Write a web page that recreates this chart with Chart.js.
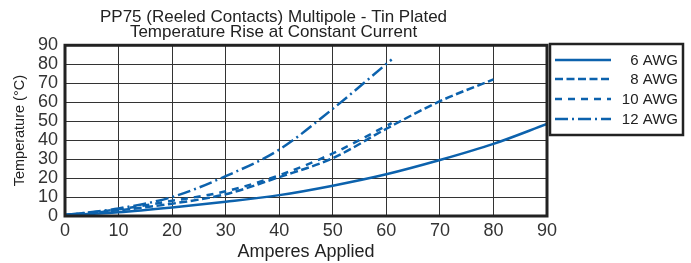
<!DOCTYPE html>
<html>
<head>
<meta charset="utf-8">
<script src="https://cdn.jsdelivr.net/npm/chart.js@4/dist/chart.umd.min.js"></script>
<style>
  html, body { margin: 0; padding: 0; background: #fff; }
  #wrap { width: 691px; height: 263px; }
</style>
</head>
<body>
<div id="wrap"><canvas id="tempChart" width="691" height="263"></canvas></div>
<script>
const titleLines = ['PP75 (Reeled Contacts) Multipole - Tin Plated', 'Temperature Rise at Constant Current'];
const seriesLabels = ['6 AWG', '8 AWG', '10 AWG', '12 AWG'];

const amps6 = [0, 10, 20, 30, 40, 50, 60, 70, 80, 90];
const temp6 = [0.5, 2, 4.5, 7.5, 11, 16, 22, 29.5, 38, 48.5];

const amps8 = [0, 10, 20, 30, 40, 50, 60, 70, 80];
const temp8 = [0.5, 3, 6.5, 11.5, 20.5, 30.5, 46, 60.5, 72];

const amps10 = [0, 10, 20, 30, 40, 50, 61];
const temp10 = [0.5, 3.5, 8, 13, 21.5, 33, 49];

const amps12 = [0, 10, 20, 30, 40, 50, 61];
const temp12 = [0.5, 4, 10, 21, 35, 56.5, 82.5];

const xTicks = [0, 10, 20, 30, 40, 50, 60, 70, 80, 90];
const yTicks = [0, 10, 20, 30, 40, 50, 60, 70, 80, 90];

const BLUE = '#0c62ad';
const FONT = '"Liberation Sans", Arial, sans-serif';
const dashes = [[], [8, 3.5], [7, 6], [13, 4, 2, 4]];

const toPoints = (xs, ys) => xs.map((x, i) => ({ x, y: ys[i] }));

const datasets = [
    toPoints(amps6, temp6),
    toPoints(amps8, temp8),
    toPoints(amps10, temp10),
    toPoints(amps12, temp12)
].map((data, i) => ({
    label: seriesLabels[i],
    data,
    borderColor: BLUE,
    backgroundColor: BLUE,
    borderWidth: 2.5,
    borderDash: dashes[i],
    pointRadius: 0,
    cubicInterpolationMode: 'monotone',
    fill: false
}));

// frame round the plot area, and the boxed legend on the right
const framePlugin = {
    id: 'frame',
    afterDraw(chart) {
        const { ctx, chartArea: a } = chart;
        ctx.save();
        ctx.strokeStyle = '#222';
        ctx.lineWidth = 3;
        ctx.strokeRect(a.left, a.top, a.right - a.left, a.bottom - a.top);

        const box = { x: 550, y: 44, w: 133, h: 91 };
        ctx.lineWidth = 2.5;
        ctx.strokeRect(box.x, box.y, box.w, box.h);
        const rows = [60, 79, 99, 119];
        ctx.font = '15px ' + FONT;
        ctx.fillStyle = '#222';
        ctx.textAlign = 'right';
        ctx.textBaseline = 'middle';
        chart.data.datasets.forEach((ds, i) => {
            ctx.strokeStyle = ds.borderColor;
            ctx.lineWidth = 2.5;
            ctx.setLineDash(ds.borderDash);
            ctx.beginPath();
            ctx.moveTo(555, rows[i]);
            ctx.lineTo(611, rows[i]);
            ctx.stroke();
            ctx.setLineDash([]);
            ctx.fillText(ds.label, 678, rows[i] + 1);
        });
        ctx.restore();
    }
};

new Chart(document.getElementById('tempChart'), {
    type: 'line',
    data: { datasets },
    options: {
        responsive: false,
        animation: false,
        layout: { padding: { left: 0, right: 144, top: 0, bottom: 0 } },
        plugins: {
            legend: { display: false },
            tooltip: { enabled: false },
            title: {
                display: true,
                text: titleLines,
                color: '#222',
                font: { family: FONT, size: 17, weight: 'normal', lineHeight: 0.92 },
                padding: { top: 9, bottom: 5 }
            }
        },
        scales: {
            x: {
                type: 'linear',
                min: 0,
                max: 90,
                afterBuildTicks(scale) { scale.ticks = xTicks.map(v => ({ value: v })); },
                afterFit(scale) { scale.height = 47; },
                grid: { color: '#333', lineWidth: 1, drawTicks: false },
                border: { display: false },
                ticks: {
                    color: '#333',
                    padding: 4,
                    autoSkip: false,
                    maxRotation: 0,
                    font: { family: FONT, size: 18 }
                },
                title: {
                    display: true,
                    text: 'Amperes Applied',
                    color: '#222',
                    padding: { top: 0, bottom: 0 },
                    font: { family: FONT, size: 18 }
                }
            },
            y: {
                min: 0,
                max: 90,
                afterBuildTicks(scale) { scale.ticks = yTicks.map(v => ({ value: v })); },
                afterFit(scale) { scale.width = 65; },
                grid: { color: '#333', lineWidth: 1, drawTicks: false },
                border: { display: false },
                ticks: {
                    color: '#333',
                    padding: 7,
                    autoSkip: false,
                    font: { family: FONT, size: 18 }
                },
                title: {
                    display: true,
                    text: 'Temperature (°C)',
                    color: '#222',
                    padding: { top: 11, bottom: 0 },
                    font: { family: FONT, size: 14.5 }
                }
            }
        }
    },
    plugins: [framePlugin]
});
</script>
</body>
</html>
